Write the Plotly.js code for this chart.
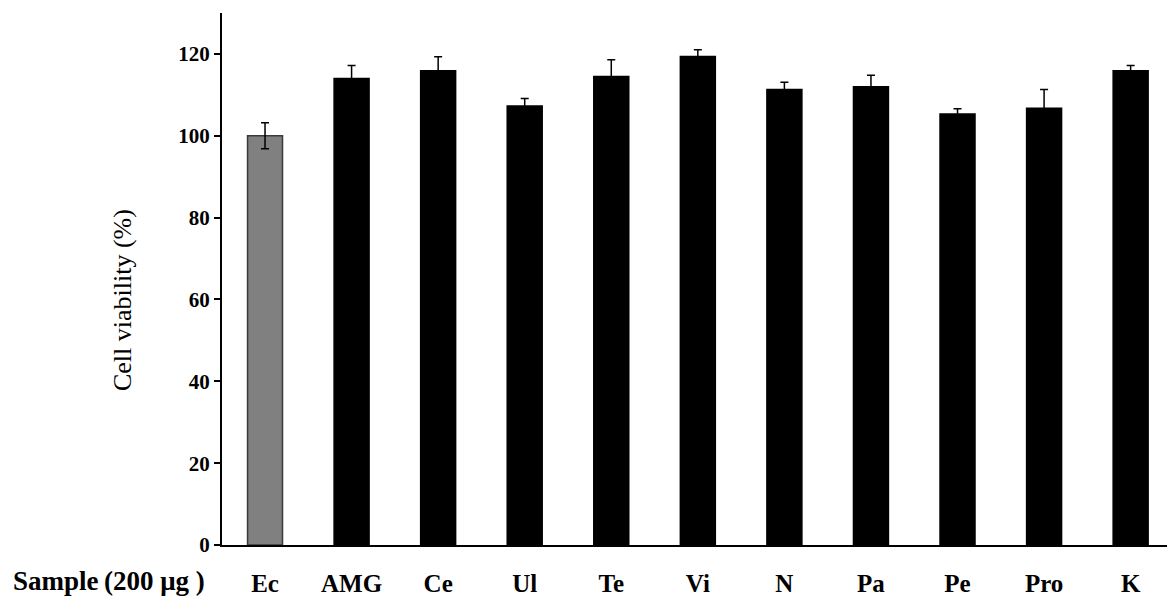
<!DOCTYPE html>
<html>
<head>
<meta charset="utf-8">
<script src="https://cdn.plot.ly/plotly-3.0.1.min.js"></script>
<style>html,body{margin:0;padding:0;background:#fff;}#chart{width:1167px;height:599px;}</style>
</head>
<body>
<div id="chart"></div>
<script>
const categories = ["Ec", "AMG", "Ce", "Ul", "Te", "Vi", "N", "Pa", "Pe", "Pro", "K"];
const viability = [100, 114.0, 115.9, 107.3, 114.5, 119.4, 111.3, 112.0, 105.3, 106.7, 115.9];
const errors = [3.2, 3.2, 3.4, 1.8, 4.1, 1.6, 1.8, 2.8, 1.3, 4.6, 1.3];
const yTicks = [0, 20, 40, 60, 80, 100, 120];

const serif = "Liberation Serif, Times New Roman, serif";
const fillColors = categories.map((c, i) => i === 0 ? "#808080" : "#000000");
const lineColors = categories.map((c, i) => i === 0 ? "#3a3a3a" : "#000000");

const trace = {
  type: "bar",
  x: categories,
  y: viability,
  width: 0.404,
  marker: { color: fillColors, line: { color: lineColors, width: 1.5 } },
  error_y: { type: "data", array: errors, visible: true, color: "#000", thickness: 1.5, width: 4 },
  hoverinfo: "x+y"
};

const layout = {
  width: 1167, height: 599,
  margin: { l: 222, r: 0, t: 13, b: 54, pad: 0 },
  paper_bgcolor: "#fff", plot_bgcolor: "#fff",
  showlegend: false,
  xaxis: {
    type: "category",
    range: [-0.497, 10.42],
    showline: true, linecolor: "#000", linewidth: 2,
    ticks: "", showgrid: false, zeroline: false,
    tickfont: { family: serif, size: 25, color: "#000", weight: "bold" },
    ticklabelstandoff: 15
  },
  yaxis: {
    range: [0, 130],
    tickvals: yTicks, ticktext: yTicks.map(String),
    showline: true, linecolor: "#000", linewidth: 2,
    ticks: "outside", ticklen: 6, tickwidth: 2, tickcolor: "#000",
    showgrid: false, zeroline: false,
    tickfont: { family: serif, size: 21, color: "#000", weight: "bold" }
  },
  annotations: [
    {
      text: "Cell viability (%)", xref: "paper", yref: "paper",
      x: -0.1058, y: 0.4605, xanchor: "center", yanchor: "middle",
      textangle: -90, showarrow: false,
      font: { family: serif, size: 26, color: "#000" }
    },
    {
      text: "Sample\u2009(200 \u03bcg )", xref: "paper", yref: "paper",
      x: -0.2232, y: -0.068, xanchor: "left", yanchor: "middle",
      showarrow: false,
      font: { family: serif, size: 27, color: "#000", weight: "bold" }
    }
  ]
};

Plotly.newPlot("chart", [trace], layout, { displayModeBar: false, staticPlot: true });
</script>
</body>
</html>
